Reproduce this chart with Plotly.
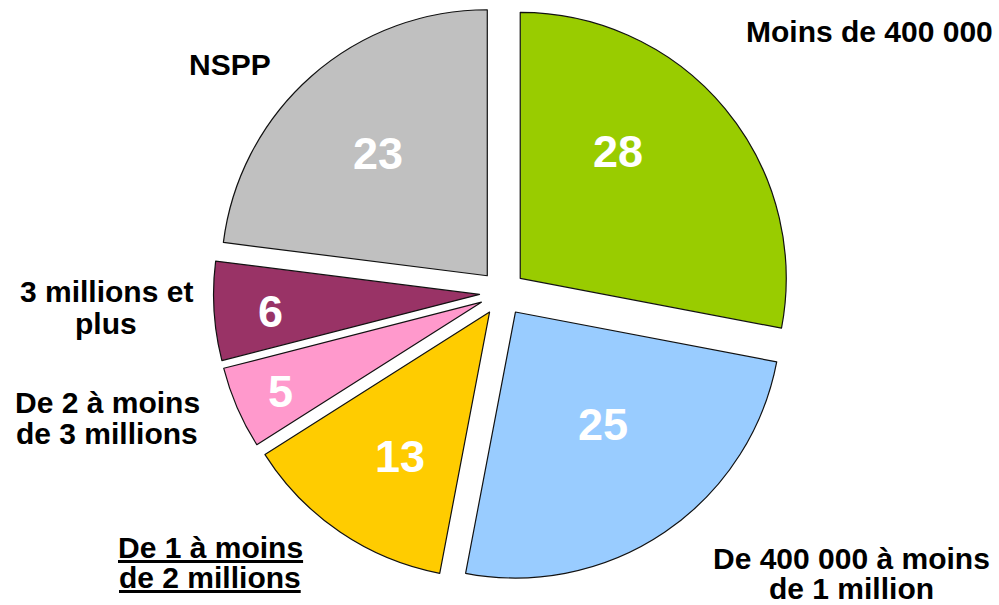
import plotly.graph_objects as go

categories = ["Moins de 400 000", "De 400 000 à moins\nde 1 million", "De 1 à moins\nde 2 millions",
              "De 2 à moins\nde 3 millions", "3 millions et\nplus", "NSPP"]
values = [28, 25, 13, 5, 6, 23]
colors = ["#99CC00", "#99CCFF", "#FFCC00", "#FF99CC", "#993366", "#C0C0C0"]
underlined = [False, False, True, False, False, False]

W, H = 999, 605
FONT = "Liberation Sans, Arial, sans-serif"

# pie centre / outer half-size in pixels
CX, CY, HALF = 502.5, 293.0, 289.0

fig = go.Figure(go.Pie(
    labels=[c.replace("\n", " ") for c in categories], values=values, sort=False,
    direction="clockwise", rotation=0,
    marker=dict(colors=colors, line=dict(color="#111111", width=1.2)),
    pull=0.0865, textinfo="none",
    showlegend=False, hoverinfo="label+value",
    domain=dict(x=[(CX - HALF) / W, (CX + HALF) / W],
                y=[1 - (CY + HALF) / H, 1 - (CY - HALF) / H]),
))

# annotation anchor positions (pixels)
label_pos = [
    (995, [31], "right"), (851, [558, 588], "center"), (210, [547, 577], "center"),
    (107, [402, 433], "center"), (106, [291, 323], "center"), (230, [64], "center"),
]
value_pos = [(618, 151), (603, 424), (400, 456), (280, 391), (270, 311), (378, 153)]

def px(x, y):
    return x / W, 1 - y / H

for lab, (x, ys, al), ul in zip(categories, label_pos, underlined):
    for line, y in zip(lab.split("\n"), ys):
        t = "<b>" + line + "</b>"
        if ul:
            t = "<u>" + t + "</u>"
        ax, ay = px(x, y)
        fig.add_annotation(x=ax, y=ay, xref="paper", yref="paper", text=t,
                           showarrow=False, xanchor=al, yanchor="middle", align="center",
                           font=dict(family=FONT, size=30, color="black"))

for v, (x, y) in zip(values, value_pos):
    ax, ay = px(x, y)
    fig.add_annotation(x=ax, y=ay, xref="paper", yref="paper", text="<b>%d</b>" % v,
                       showarrow=False, xanchor="center", yanchor="middle",
                       font=dict(family=FONT, size=45, color="white"))

fig.update_layout(width=W, height=H, margin=dict(l=0, r=0, t=0, b=0, pad=0),
                  paper_bgcolor="white", plot_bgcolor="white")
fig.write_html("out.html", config={"displayModeBar": False},
               post_script="document.body.style.margin='0';")
